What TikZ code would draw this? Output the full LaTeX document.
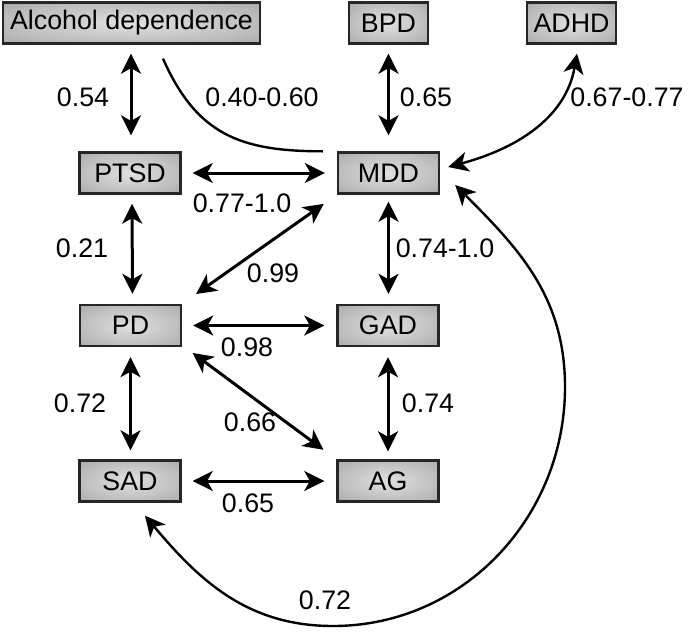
\documentclass[tikz,border=0pt]{standalone}
\usepackage{fontspec}
\setmainfont{Liberation Sans}
\usetikzlibrary{arrows.meta,calc}
\pgfdeclareradialshading{boxshade}{\pgfpoint{0bp}{0bp}}{color(0bp)=(black!12); color(28bp)=(black!28); color(50bp)=(black!44); color(70bp)=(black!48)}
\tikzset{
  box/.style={draw=black!85, line width=1.2pt, shading=boxshade, minimum width=50.5pt, minimum height=20.5pt, inner sep=0pt, font=\fontsize{13.4}{15}\selectfont},
  lbl/.style={inner sep=0pt, font=\fontsize{13.4}{15}\selectfont},
  tip/.tip={Stealth[length=10pt,width=10pt,inset=2.8pt]},
  arr/.style={{tip}-{tip}, line width=1.5pt},
  carr/.style={{tip}-{tip}, line width=1.2pt},
  cline/.style={line width=1.2pt}
}
\begin{document}
\begin{tikzpicture}[x=0.5pt,y=0.5pt]
\useasboundingbox[fill=white] (0,0) rectangle (688,-631);
% nodes
\node[box, minimum width=128.5pt] (alc) at (131.5,-23) {Alcohol dependence};
\node[box, minimum width=39.5pt] (bpd) at (388.5,-23) {BPD};
\node[box, minimum width=44.5pt] (adhd) at (571.5,-23) {ADHD};
\node[box] (ptsd) at (130,-173) {PTSD};
\node[box] (mdd) at (388.5,-173) {MDD};
\node[box] (pd) at (130.5,-325.5) {PD};
\node[box] (gad) at (388,-325.5) {GAD};
\node[box] (sad) at (130,-481) {SAD};
\node[box] (ag) at (388,-481) {AG};
% straight connectors
\draw[arr, shorten <=4.5pt, shorten >=8pt] ([xshift=0.5pt]ptsd.north |- alc.south) -- ([xshift=0.5pt]ptsd.north);
\draw[arr, shorten <=4.5pt, shorten >=8pt] (mdd.north |- bpd.south) -- (mdd.north);
\draw[arr, shorten <=5.5pt, shorten >=6pt] (ptsd.east) -- (mdd.west);
\draw[arr, shorten <=4.5pt, shorten >=5pt] ([xshift=1pt]ptsd.south) -- ([xshift=1pt]pd.north);
\draw[arr, shorten <=3.5pt, shorten >=5pt] (mdd.south) -- (mdd.south |- gad.north);
\draw[arr, shorten <=8pt, shorten >=8.5pt] (mdd.south west) -- (pd.north east);
\draw[arr, shorten <=5.5pt, shorten >=6pt] (pd.east) -- (gad.west);
\draw[arr, shorten <=6.5pt, shorten >=8pt] ([yshift=1pt]pd.south east) -- (ag.north west);
\draw[arr, shorten <=5pt, shorten >=4pt] (gad.south) -- (ag.north);
\draw[arr, shorten <=5pt, shorten >=4.5pt] (pd.south) -- (pd.south |- sad.north);
\draw[arr, shorten <=5.5pt, shorten >=6pt] (sad.east) -- (ag.west);
% curved connectors
\draw[cline] ([xshift=15.75pt,yshift=-7pt]alc.south) to[out=-66, in=180, looseness=1.15] ([xshift=-7pt]mdd.north west);
\draw[carr] ([xshift=4pt,yshift=3pt]mdd.east) to[out=15, in=-100] ([xshift=2.75pt,yshift=-4.5pt]adhd.south);
\coordinate (cb) at (333,-626);
\coordinate (cr) at (565,-387);
\draw[carr] ([xshift=7.5pt,yshift=-6.5pt]sad.south) to[out=-50, in=180] (cb) to[out=0, in=-90] (cr) to[out=90, in=-45] ([xshift=7.5pt,yshift=-6pt]mdd.east);
% labels
\node[lbl] (l1) at (83,-97) {0.54};
\node[lbl] (l2) at (262,-97) {0.40-0.60};
\node[lbl] (l3) at (426,-97) {0.65};
\node[lbl] (l4) at (627,-97) {0.67-0.77};
\node[lbl] (l5) at (242,-203) {0.77-1.0};
\node[lbl] (l6) at (82,-248) {0.21};
\node[lbl] (l7) at (273,-273) {0.99};
\node[lbl] (l8) at (445,-248) {0.74-1.0};
\node[lbl] (l9) at (247,-347) {0.98};
\node[lbl] (l10) at (80,-403) {0.72};
\node[lbl] (l11) at (250,-422) {0.66};
\node[lbl] (l12) at (428,-403) {0.74};
\node[lbl] (l13) at (248,-503) {0.65};
\node[lbl] (l14) at (325,-600) {0.72};
\end{tikzpicture}
\end{document}
